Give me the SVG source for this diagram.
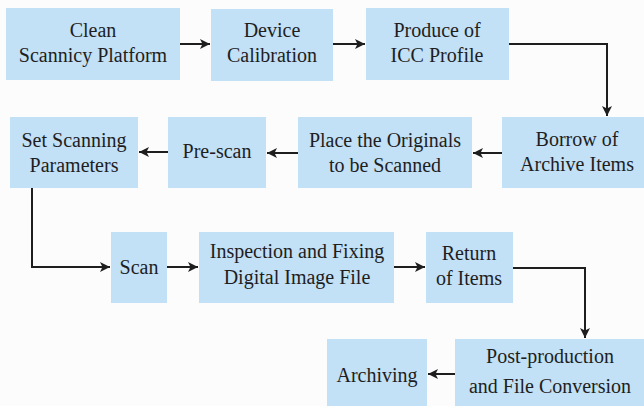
<svg xmlns="http://www.w3.org/2000/svg" width="644" height="406" viewBox="0 0 644 406">
  <style>
    .box { fill: #c2e0f6; }
    .lbl { font-size: 20px; fill: #1e1e1e; text-anchor: middle; }
    .conn { fill: none; stroke: #1e1e1e; stroke-width: 2; marker-end: url(#arrow); }
  </style>
  <defs>
    <marker id="arrow" viewBox="0 0 10 10" refX="10" refY="5" markerWidth="5" markerHeight="5" markerUnits="strokeWidth" orient="auto">
      <path d="M0,0 L10,5 L0,10 L2.5,5 Z" fill="#1e1e1e"/>
    </marker>
  </defs>
  <rect width="644" height="406" fill="#fcfcfc"/>

  <g id="nodes" font-family="'Liberation Serif', 'DejaVu Serif', serif">
  <g id="clean-platform">
    <rect class="box" x="6" y="8" width="174" height="72"/>
    <text class="lbl" x="93" y="37">Clean</text>
    <text class="lbl" x="93" y="62">Scannicy Platform</text>
  </g>
  <g id="device-calibration">
    <rect class="box" x="211" y="9" width="122" height="72"/>
    <text class="lbl" x="272" y="37">Device</text>
    <text class="lbl" x="272" y="62">Calibration</text>
  </g>
  <g id="icc-profile">
    <rect class="box" x="366" y="8" width="143" height="72"/>
    <text class="lbl" x="437" y="37">Produce of</text>
    <text class="lbl" x="437" y="62">ICC Profile</text>
  </g>
  <g id="borrow-items">
    <rect class="box" x="502" y="117" width="142" height="71"/>
    <text class="lbl" x="577" y="146">Borrow of</text>
    <text class="lbl" x="577" y="171">Archive Items</text>
  </g>
  <g id="place-originals">
    <rect class="box" x="298" y="117" width="174" height="71"/>
    <text class="lbl" x="385" y="147">Place the Originals</text>
    <text class="lbl" x="385" y="172">to be Scanned</text>
  </g>
  <g id="pre-scan">
    <rect class="box" x="168" y="117" width="98" height="71"/>
    <text class="lbl" x="217" y="158">Pre-scan</text>
  </g>
  <g id="set-parameters">
    <rect class="box" x="10" y="117" width="128" height="71"/>
    <text class="lbl" x="74" y="147">Set Scanning</text>
    <text class="lbl" x="74" y="172">Parameters</text>
  </g>
  <g id="scan">
    <rect class="box" x="111" y="232" width="56" height="71"/>
    <text class="lbl" x="139" y="274">Scan</text>
  </g>
  <g id="inspection">
    <rect class="box" x="199" y="232" width="195" height="71"/>
    <text class="lbl" x="297" y="258">Inspection and Fixing</text>
    <text class="lbl" x="297" y="284">Digital Image File</text>
  </g>
  <g id="return-items">
    <rect class="box" x="426" y="232" width="87" height="71"/>
    <text class="lbl" x="469" y="260">Return</text>
    <text class="lbl" x="469" y="285">of Items</text>
  </g>
  <g id="post-production">
    <rect class="box" x="455" y="339" width="189" height="67"/>
    <text class="lbl" x="550" y="363">Post-production</text>
    <text class="lbl" x="550" y="393">and File Conversion</text>
  </g>
  <g id="archiving">
    <rect class="box" x="327" y="339" width="100" height="67"/>
    <text class="lbl" x="377" y="382">Archiving</text>
  </g>
  </g>

  <g id="connectors">
    <path class="conn" d="M180,44 H210"/>
    <path class="conn" d="M333,44 H365"/>
    <path class="conn" d="M509,44 H607 V116"/>
    <path class="conn" d="M502,153 H473"/>
    <path class="conn" d="M298,153 H267"/>
    <path class="conn" d="M168,152 H139"/>
    <path class="conn" d="M32,188 V267 H110"/>
    <path class="conn" d="M167,267 H198"/>
    <path class="conn" d="M394,267 H425"/>
    <path class="conn" d="M513,268 H585 V338"/>
    <path class="conn" d="M455,374 H428"/>
  </g>
</svg>
